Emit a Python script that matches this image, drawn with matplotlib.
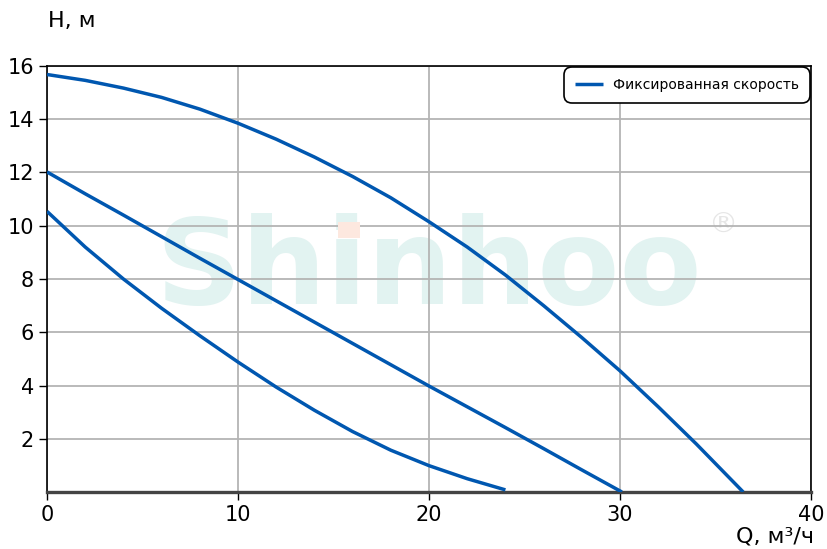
import matplotlib
matplotlib.use("Agg")
import matplotlib.pyplot as plt
from matplotlib.patches import Rectangle

# pump curves H(Q)
q_max = [0, 2, 4, 6, 8, 10, 12, 14, 16, 18, 20, 22, 24, 26, 28, 30, 32, 34, 36.45]
h_max = [15.68, 15.46, 15.17, 14.82, 14.38, 13.85, 13.25, 12.58, 11.85, 11.05, 10.15,
         9.2, 8.15, 7.0, 5.8, 4.55, 3.2, 1.8, 0.0]

q_mid = [0, 2, 4, 6, 8, 10, 12, 14, 16, 18, 20, 22, 24, 26, 28, 30.1]
h_mid = [12.02, 11.2, 10.4, 9.59, 8.78, 7.98, 7.18, 6.38, 5.58, 4.78, 3.98,
         3.2, 2.42, 1.63, 0.83, 0.0]

q_min = [0, 2, 4, 6, 8, 10, 12, 14, 16, 18, 20, 22, 24]
h_min = [10.54, 9.2, 8.0, 6.9, 5.87, 4.88, 3.94, 3.07, 2.27, 1.57, 0.99, 0.5, 0.08]

x_ticks = [0, 10, 20, 30, 40]
y_ticks = [2, 4, 6, 8, 10, 12, 14, 16]

blue = "#0057b0"

fig = plt.figure(figsize=(8.28, 5.49), dpi=100)
ax = fig.add_axes([0.0568, 0.1038, 0.9227, 0.776])

kw = dict(color=blue, lw=2.5, zorder=3, solid_joinstyle="round", solid_capstyle="butt")
ax.plot(q_max, h_max, label="Фиксированная скорость", **kw)
ax.plot(q_mid, h_mid, **kw)
ax.plot(q_min, h_min, **kw)

# watermark
ax.text(0.500, 0.442, "Shinhoo", transform=ax.transAxes, ha="center", va="baseline",
        fontsize=86, fontweight="bold", family="DejaVu Sans",
        color="#e2f3f1", zorder=0.5)
ax.add_patch(Rectangle((0.3815, 0.596), 0.0275, 0.0376, transform=ax.transAxes,
                       color="#fde8df", zorder=0.6, lw=0))
ax.text(0.885, 0.628, "®", transform=ax.transAxes, ha="center", va="center",
        fontsize=21, color="#e6e6e6", zorder=0.5)

ax.set_xlim(0, 40)
ax.set_ylim(0, 16)
ax.set_xticks(x_ticks)
ax.set_yticks(y_ticks)
ax.tick_params(labelsize=15, length=6, width=1)
ax.grid(True, color="#b4b4b4", lw=1.3)
ax.set_axisbelow(True)

for s in ["top", "right", "left"]:
    ax.spines[s].set_color("black")
    ax.spines[s].set_linewidth(1.2)
ax.spines["bottom"].set_color("#444444")
ax.spines["bottom"].set_linewidth(2.4)

fig.text(0.058, 0.962, "H, м", fontsize=16, ha="left", va="center")
fig.text(0.983, 0.022, "Q, м³/ч", fontsize=16, ha="right", va="center")

leg = ax.legend(loc="upper right", fontsize=10, fancybox=True, framealpha=1,
                edgecolor="black", borderaxespad=0.05, borderpad=0.8,
                handlelength=2.0, handletextpad=0.75)
leg.get_frame().set_linewidth(1.2)
leg.get_frame().set_boxstyle("round,pad=0,rounding_size=0.6")

fig.savefig("out.png", dpi=100)
